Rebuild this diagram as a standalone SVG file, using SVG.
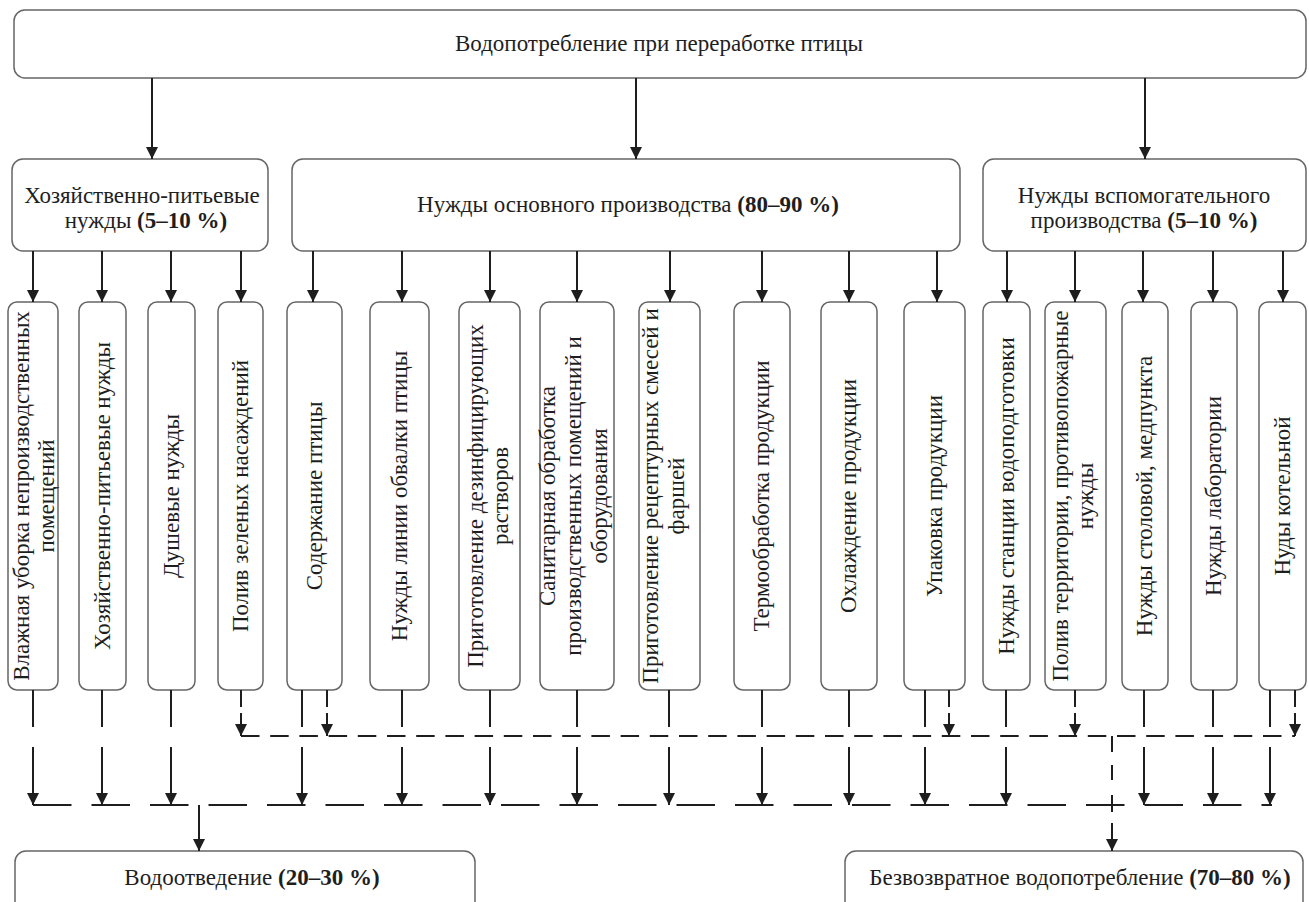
<svg xmlns="http://www.w3.org/2000/svg" width="1309" height="902" viewBox="0 0 1309 902">
<style>
.box{fill:#fff;stroke:#666;stroke-width:1.5}
.t{font-family:"Liberation Serif","Times New Roman",serif;font-size:23px;fill:#1e1e1e;text-anchor:middle}
.b{font-weight:bold}
.c{stroke:#1e1e1e;stroke-width:2;fill:none}
.a{marker-end:url(#ah)}
.d1{stroke-dasharray:38.5 20}
.d2{stroke-dasharray:18.5 10.7}
</style>
<defs>
<marker id="ah" viewBox="0 0 12 12" refX="12" refY="6" markerWidth="12" markerHeight="12" markerUnits="userSpaceOnUse" orient="auto"><path d="M0,0 L12,6 L0,12 z" fill="#1e1e1e"/></marker>
</defs>
<rect width="1309" height="902" fill="#fff"/>

<g id="n-top"><rect class="box" x="14" y="10" width="1292" height="68" rx="11"/><text class="t" x="659" y="51">Водопотребление при переработке птицы</text></g>

<g id="n-hp"><rect class="box" x="12" y="159" width="256" height="92" rx="11"/><text class="t" x="142" y="203">Хозяйственно-питьевые</text><text class="t" x="146" y="228">нужды <tspan class="b">(5–10 %)</tspan></text></g>
<g id="n-main"><rect class="box" x="292" y="159" width="668" height="92" rx="11"/><text class="t" x="628" y="212">Нужды основного производства <tspan class="b">(80–90 %)</tspan></text></g>
<g id="n-aux"><rect class="box" x="983" y="159" width="323" height="92" rx="11"/><text class="t" x="1144" y="203">Нужды вспомогательного</text><text class="t" x="1144" y="228">производства <tspan class="b">(5–10 %)</tspan></text></g>

<g id="v1"><rect class="box" x="8" y="302" width="50" height="388" rx="9"/><text class="t" transform="translate(33,496) rotate(-90)"><tspan x="0" y="-4">Влажная уборка непроизводственных</tspan><tspan x="0" y="21">помещений</tspan></text></g>
<g id="v2"><rect class="box" x="79" y="302" width="47" height="388" rx="9"/><text class="t" transform="translate(102.5,496) rotate(-90)" y="7">Хозяйственно-питьевые нужды</text></g>
<g id="v3"><rect class="box" x="148" y="302" width="47" height="388" rx="9"/><text class="t" transform="translate(171.5,496) rotate(-90)" y="7">Душевые нужды</text></g>
<g id="v4"><rect class="box" x="218" y="302" width="45" height="388" rx="9"/><text class="t" transform="translate(240.5,496) rotate(-90)" y="7">Полив зеленых насаждений</text></g>
<g id="v5"><rect class="box" x="287" y="302" width="55" height="388" rx="9"/><text class="t" transform="translate(314.5,496) rotate(-90)" y="7">Содержание птицы</text></g>
<g id="v6"><rect class="box" x="370" y="302" width="59" height="388" rx="9"/><text class="t" transform="translate(399.5,496) rotate(-90)" y="7">Нужды линии обвалки птицы</text></g>
<g id="v7"><rect class="box" x="459" y="302" width="61" height="388" rx="9"/><text class="t" transform="translate(489.5,496) rotate(-90)"><tspan x="0" y="-7">Приготовление дезинфицирующих</tspan><tspan x="0" y="18">растворов</tspan></text></g>
<g id="v8"><rect class="box" x="540" y="302" width="74" height="388" rx="9"/><text class="t" transform="translate(577,496) rotate(-90)"><tspan x="0" y="-22">Санитарная обработка</tspan><tspan x="0" y="4">производственных помещений и</tspan><tspan x="0" y="30">оборудования</tspan></text></g>
<g id="v9"><rect class="box" x="639" y="302" width="61" height="388" rx="9"/><text class="t" transform="translate(669.5,496) rotate(-90)"><tspan x="0" y="-12">Приготовление рецептурных смесей и</tspan><tspan x="0" y="14">фаршей</tspan></text></g>
<g id="v10"><rect class="box" x="734" y="302" width="56" height="388" rx="9"/><text class="t" transform="translate(762,496) rotate(-90)" y="7">Термообработка продукции</text></g>
<g id="v11"><rect class="box" x="821" y="302" width="56" height="388" rx="9"/><text class="t" transform="translate(849,496) rotate(-90)" y="7">Охлаждение продукции</text></g>
<g id="v12"><rect class="box" x="904" y="302" width="61" height="388" rx="9"/><text class="t" transform="translate(934.5,496) rotate(-90)" y="7">Упаковка продукции</text></g>
<g id="v13"><rect class="box" x="983" y="302" width="47" height="388" rx="9"/><text class="t" transform="translate(1006.5,496) rotate(-90)" y="7">Нужды станции водоподготовки</text></g>
<g id="v14"><rect class="box" x="1045" y="302" width="61" height="388" rx="9"/><text class="t" transform="translate(1075.5,496) rotate(-90)"><tspan x="0" y="-8">Полив территории, противопожарные</tspan><tspan x="0" y="17">нужды</tspan></text></g>
<g id="v15"><rect class="box" x="1122" y="302" width="46" height="388" rx="9"/><text class="t" transform="translate(1145,496) rotate(-90)" y="7">Нужды столовой, медпункта</text></g>
<g id="v16"><rect class="box" x="1191" y="302" width="46" height="388" rx="9"/><text class="t" transform="translate(1214,496) rotate(-90)" y="7">Нужды лаборатории</text></g>
<g id="v17"><rect class="box" x="1259" y="302" width="47" height="388" rx="9"/><text class="t" transform="translate(1282.5,496) rotate(-90)" y="7">Нуды котельной</text></g>

<g id="n-out"><rect class="box" x="15" y="851" width="460" height="70" rx="11"/><text class="t" x="252" y="885">Водоотведение <tspan class="b">(20–30 %)</tspan></text></g>
<g id="n-loss"><rect class="box" x="845" y="851" width="458" height="70" rx="11"/><text class="t" x="1080" y="885">Безвозвратное водопотребление <tspan class="b">(70–80 %)</tspan></text></g>

<g id="connectors">
<line class="c a" x1="152" y1="78" x2="152" y2="159"/>
<line class="c a" x1="636" y1="78" x2="636" y2="159"/>
<line class="c a" x1="1145" y1="78" x2="1145" y2="159"/>

<line class="c a" x1="33" y1="251" x2="33" y2="302"/>
<line class="c a" x1="102" y1="251" x2="102" y2="302"/>
<line class="c a" x1="171" y1="251" x2="171" y2="302"/>
<line class="c a" x1="241" y1="251" x2="241" y2="302"/>
<line class="c a" x1="313" y1="251" x2="313" y2="302"/>
<line class="c a" x1="402" y1="251" x2="402" y2="302"/>
<line class="c a" x1="490" y1="251" x2="490" y2="302"/>
<line class="c a" x1="577" y1="251" x2="577" y2="302"/>
<line class="c a" x1="670" y1="251" x2="670" y2="302"/>
<line class="c a" x1="762" y1="251" x2="762" y2="302"/>
<line class="c a" x1="849" y1="251" x2="849" y2="302"/>
<line class="c a" x1="937" y1="251" x2="937" y2="302"/>
<line class="c a" x1="1007" y1="251" x2="1007" y2="302"/>
<line class="c a" x1="1075" y1="251" x2="1075" y2="302"/>
<line class="c a" x1="1143" y1="251" x2="1143" y2="302"/>
<line class="c a" x1="1213" y1="251" x2="1213" y2="302"/>
<line class="c a" x1="1283" y1="251" x2="1283" y2="302"/>

<path class="c" d="M33,690V727M102,690V727M171,690V727M302,690V727M402,690V727M490,690V727M577,690V727M669,690V727M762,690V727M849,690V727M925,690V727M1006,690V727M1144,690V727M1213,690V727M1270,690V727"/>
<line class="c a" x1="33" y1="747" x2="33" y2="805"/>
<line class="c a" x1="102" y1="747" x2="102" y2="805"/>
<line class="c a" x1="171" y1="747" x2="171" y2="805"/>
<line class="c a" x1="302" y1="747" x2="302" y2="805"/>
<line class="c a" x1="402" y1="747" x2="402" y2="805"/>
<line class="c a" x1="490" y1="747" x2="490" y2="805"/>
<line class="c a" x1="577" y1="747" x2="577" y2="805"/>
<line class="c a" x1="669" y1="747" x2="669" y2="805"/>
<line class="c a" x1="762" y1="747" x2="762" y2="805"/>
<line class="c a" x1="849" y1="747" x2="849" y2="805"/>
<line class="c a" x1="925" y1="747" x2="925" y2="805"/>
<line class="c a" x1="1006" y1="747" x2="1006" y2="805"/>
<line class="c a" x1="1144" y1="747" x2="1144" y2="805"/>
<line class="c a" x1="1213" y1="747" x2="1213" y2="805"/>
<line class="c a" x1="1270" y1="747" x2="1270" y2="805"/>

<path class="c" d="M241,690V707M327,690V707M949,690V707M1075,690V707M1295,690V707"/>
<line class="c a" x1="241" y1="713" x2="241" y2="736"/>
<line class="c a" x1="327" y1="713" x2="327" y2="736"/>
<line class="c a" x1="949" y1="713" x2="949" y2="736"/>
<line class="c a" x1="1075" y1="713" x2="1075" y2="736"/>
<line class="c a" x1="1295" y1="713" x2="1295" y2="736"/>

<line class="c d2" x1="241" y1="736" x2="1295" y2="736"/>
<line class="c d1" x1="33" y1="805" x2="1272" y2="805"/>

<path class="c" d="M1112,736V752M1112,765V780M1112,795V812"/>
<line class="c a" x1="1112" y1="823" x2="1112" y2="851"/>
<line class="c a" x1="199" y1="805" x2="199" y2="851"/>
</g>
</svg>
